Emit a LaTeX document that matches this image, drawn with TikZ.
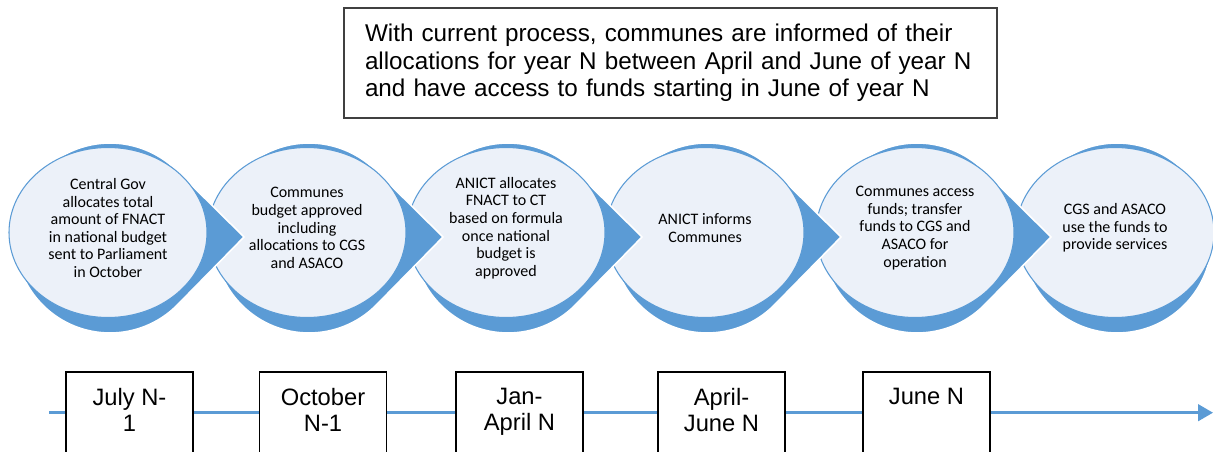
\documentclass[tikz,border=0pt]{standalone}
\usepackage{fontspec}
\setmainfont{Liberation Sans}
\newfontfamily\calibri{Carlito}
\usepackage{tikz}
\usetikzlibrary{arrows.meta, calc}
\definecolor{stepblue}{RGB}{91,155,213}
\definecolor{steppale}{RGB}{236,241,249}
\definecolor{noteframe}{RGB}{64,64,64}

% blue drop behind a stage, its point aimed at the next stage
\newcommand{\stagedrop}[1]{%
  \filldraw[stepblue, draw=white, line width=0.9pt]
    (#1+136,237) -- ($(#1+2,238)+(44.8:95)$)
    arc[start angle=44.8, end angle=315.2, radius=95] -- cycle;}
% pale disc of a stage
\newcommand{\stagedisc}[1]{%
  \filldraw[fill=steppale, draw=stepblue, line width=0.6pt]
    (#1,232.5) ellipse[x radius=99, y radius=85];}
\newcommand{\datetext}[1]{\parbox[t][1.9cm][t]{2.4cm}{\centering #1}}

\begin{document}
\begin{tikzpicture}[x=0.02cm, y=-0.02cm,
  stage/.style={align=center, inner sep=0pt,
    font=\calibri\fontsize{9.1}{10}\selectfont},
  datebox/.style={draw, line width=0.6pt, fill=white, anchor=north,
    minimum width=2.54cm, inner xsep=0pt, inner ysep=0.33cm, outer sep=0pt,
    font=\fontsize{13.5}{14.7}\selectfont}]
  \useasboundingbox (0,0) rectangle (1213,452);

  % the note at the top
  \node[draw=noteframe, line width=0.9pt, anchor=north west, outer sep=0pt,
        text width=12.22cm, inner xsep=0.42cm, minimum height=2.2cm, align=left,
        font=\fontsize{13.8}{15.6}\selectfont] (note) at (344,8)
    {With current process, communes are informed of their\\
     allocations for year N between April and June of year N\\
     and have access to funds starting in June of year N};

  % stages, right to left so each point lies over the next disc
  \filldraw[stepblue, draw=white, line width=0.9pt] (1117,238) circle[radius=95];
  \stagedisc{1115}
  \node[stage] (s6) at (1115,228) {CGS and ASACO\\use the funds to\\provide services};
  \stagedrop{915}
  \stagedisc{915}
  \node[stage] (s5) at (915,228)
    {Communes access\\funds; transfer\\funds to CGS and\\ASACO for\\operation};
  \stagedrop{705}
  \stagedisc{705}
  \node[stage] (s4) at (705,228) {ANICT informs\\Communes};
  \stagedrop{506}
  \stagedisc{506}
  \node[stage] (s3) at (506,228)
    {ANICT allocates\\FNACT to CT\\based on formula\\once national\\budget is\\approved};
  \stagedrop{307}
  \stagedisc{307}
  \node[stage] (s2) at (307,228)
    {Communes\\budget approved\\including\\allocations to CGS\\and ASACO};
  \stagedrop{108}
  \stagedisc{108}
  \node[stage] (s1) at (108,228)
    {Central Gov\\allocates total\\amount of FNACT\\in national budget\\sent to Parliament\\in October};

  % time axis
  \coordinate (t0) at (49,412.7);
  \coordinate (t1) at (1213,412.7);
  \draw[stepblue, line width=1.7pt, -{Triangle[length=0.3cm, width=0.33cm]}] (t0) -- (t1);

  % dates along the axis
  \node[datebox] (d1) at (129.5,372) {\datetext{July N-\\1}};
  \node[datebox] (d2) at (323,372) {\datetext{October\\N-1}};
  \node[datebox] (d3) at (519.5,372) {\datetext{Jan-\\April N}};
  \node[datebox] (d4) at (721.5,372) {\datetext{April-\\June N}};
  \node[datebox] (d5) at (926.5,372) {\datetext{June N}};
\end{tikzpicture}
\end{document}
